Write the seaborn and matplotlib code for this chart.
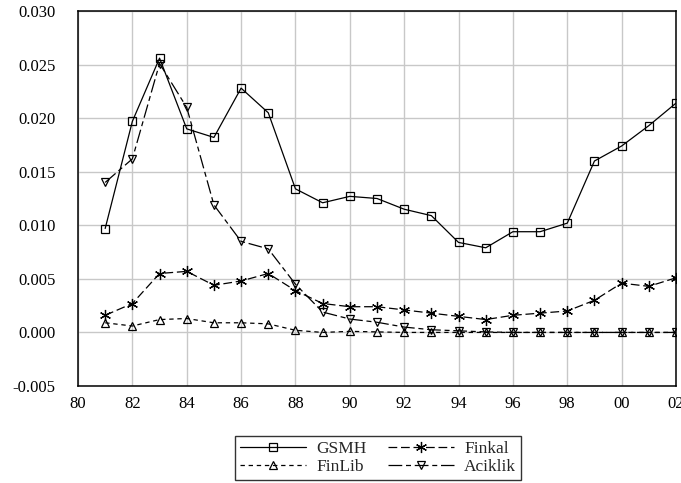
import matplotlib
matplotlib.use("Agg")
import matplotlib.pyplot as plt
import seaborn as sns
import numpy as np
import pandas as pd
from matplotlib.lines import Line2D

years = list(range(1981, 2003))
gsmh = [0.0097, 0.0197, 0.0256, 0.0190, 0.0182, 0.0228, 0.0205, 0.0134, 0.0121, 0.0127,
        0.0125, 0.0115, 0.0109, 0.0084, 0.0079, 0.0094, 0.0094, 0.0102, 0.0160, 0.0174,
        0.0193, 0.0214]
finkal = [0.0016, 0.0027, 0.0055, 0.0057, 0.0044, 0.0048, 0.0055, 0.0039, 0.0027, 0.0024,
          0.0024, 0.0021, 0.0018, 0.0015, 0.0012, 0.0016, 0.0018, 0.0020, 0.0030, 0.0046,
          0.0043, 0.0051]
finlib = [0.0009, 0.0006, 0.0012, 0.0013, 0.0009, 0.0009, 0.0008, 0.0002, 0.0000, 0.0001,
          0.00005, 0.0000, 0.0000, 0.0000, 0.0000, 0.0000, 0.0000, 0.0000, 0.0000, 0.0000,
          0.0000, 0.0000]
aciklik = [0.0140, 0.0162, 0.0251, 0.0210, 0.0119, 0.0085, 0.0078, 0.0045, 0.0019, 0.00125,
           0.00095, 0.0005, 0.00025, 0.00015, 0.00005, 0.0000, 0.0000, 0.0000, 0.0000, 0.0000,
           0.0000, 0.0000]
series_names = ["GSMH", "Finkal", "FinLib", "Aciklik"]
x_ticks = list(range(1980, 2003, 2))
y_ticks = [-0.005, 0.000, 0.005, 0.010, 0.015, 0.020, 0.025, 0.030]

sns.set_theme(style="white")
plt.rcParams['font.family'] = ['Liberation Serif', 'DejaVu Serif']

fig = plt.figure(figsize=(6.81, 4.83), dpi=100)
ax = fig.add_axes([78/681, 1-386/483, (676-78)/681, (386-11)/483])

styles = {
    "GSMH":   dict(marker="s", linestyle="-"),
    "Finkal": dict(marker=(6, 2, 0), linestyle=(0, (7, 3))),
    "FinLib": dict(marker="^", linestyle=(0, (3.5, 3))),
    "Aciklik": dict(marker="v", linestyle=(0, (11, 3, 4, 3))),
}
data = {"GSMH": gsmh, "Finkal": finkal, "FinLib": finlib, "Aciklik": aciklik}

handles = {}
for name in series_names:
    st = styles[name]
    sns.lineplot(x=years, y=data[name], ax=ax, color="black", linewidth=0.9,
                 marker=st["marker"], linestyle=st["linestyle"], markersize=6 if name != "Finkal" else 8,
                 markerfacecolor="none", markeredgecolor="black", markeredgewidth=0.9,
                 legend=False)
    handles[name] = Line2D([], [], color="black", linewidth=0.9, marker=st["marker"],
                           linestyle=st["linestyle"], markersize=6 if name != "Finkal" else 8,
                           markerfacecolor="none", markeredgecolor="black",
                           markeredgewidth=0.9, markevery=[1])

ax.set_xlim(1980, 2002)
ax.set_ylim(-0.005, 0.030)
ax.set_xticks(x_ticks)
ax.set_xticklabels([f"{y % 100:02d}" for y in x_ticks])
ax.set_xticks(range(1980, 2003), minor=True)
ax.set_yticks(y_ticks)
ax.set_yticklabels([f"{v:.3f}" for v in y_ticks])
ax.grid(True, which="major", color="#c8c8c8", linewidth=1.0)
ax.set_axisbelow(True)
for sp in ax.spines.values():
    sp.set_color("black")
    sp.set_linewidth(1.1)
ax.tick_params(axis="y", direction="out", length=5, width=1, pad=11, labelsize=12, colors="black")
ax.tick_params(axis="x", which="both", direction="out", length=4, width=1, pad=3, labelsize=12, colors="black")
ax.set_xlabel("")
ax.set_ylabel("")

order = ["GSMH", "FinLib", "Finkal", "Aciklik"]
leg = fig.legend([ [handles[n]][0] for n in order], order, ncol=2, loc="center",
                 bbox_to_anchor=(378/681, 1-458/483), fontsize=12.5, frameon=True,
                 fancybox=False, edgecolor="black", handlelength=3.8, labelspacing=0.1,
                 columnspacing=1.2, handletextpad=0.6, borderpad=0.3)
leg.get_frame().set_linewidth(1.0)

fig.savefig("out.png", dpi=100)
